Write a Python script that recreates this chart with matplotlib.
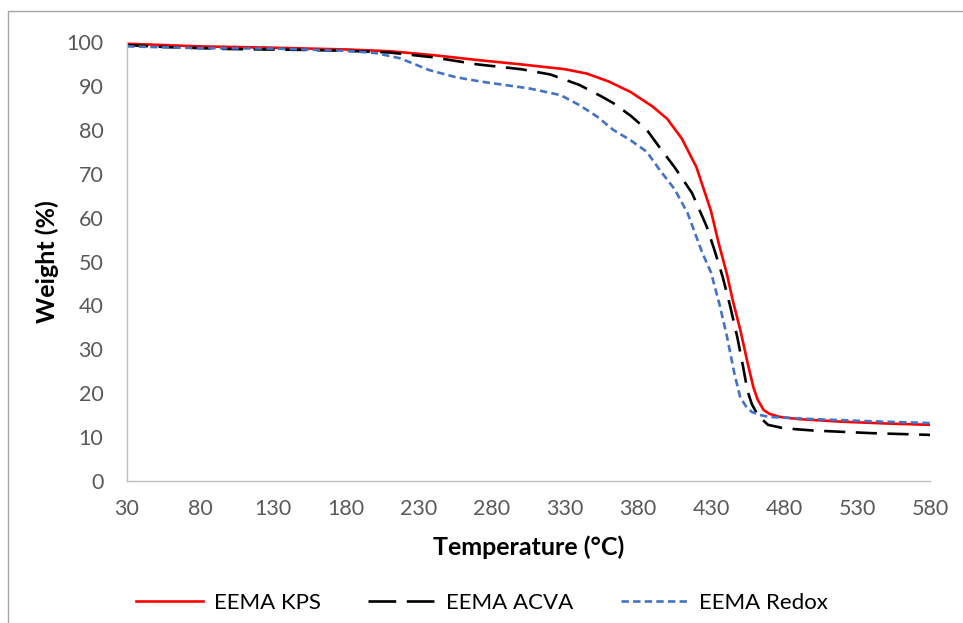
import matplotlib
matplotlib.use("Agg")
import matplotlib.pyplot as plt
from matplotlib.patches import Rectangle
from matplotlib.lines import Line2D

plt.rcParams['font.family'] = ['Lato', 'DejaVu Sans']

# TGA curves: temperature (°C) and remaining weight (%)
kps_temp = [30, 80, 130, 180, 210, 240, 270, 300, 330, 345, 360, 375, 390, 400, 410,
            420, 430, 435, 441, 445, 450, 455, 459, 462, 466, 470, 477, 490, 520, 550, 580]
kps_weight = [99.6, 99.0, 98.7, 98.3, 97.9, 97.0, 95.9, 94.9, 93.8, 92.8, 91.0, 88.6, 85.3, 82.5, 78.0,
              71.5, 61.5, 54.5, 47.0, 41.0, 34.5, 27.0, 21.4, 18.5, 16.2, 15.3, 14.6, 14.1, 13.5, 13.1, 12.8]

acva_temp = [30, 60, 100, 150, 180, 210, 240, 270, 300, 320, 340, 355, 363, 375, 386, 395, 405,
             417, 427, 432, 438, 443, 448, 452, 455, 458, 462, 469, 480, 500, 540, 580]
acva_weight = [99.3, 98.8, 98.4, 98.2, 98.0, 97.6, 96.5, 94.9, 93.8, 92.6, 90.2, 87.6, 86.1, 83.2, 80.0, 75.9, 71.5,
               65.6, 58.0, 53.0, 46.5, 40.0, 32.8, 26.0, 20.5, 17.5, 15.0, 12.8, 12.0, 11.5, 10.9, 10.5]

redox_temp = [30, 80, 130, 180, 200, 217, 237, 255, 272, 306, 327, 340, 352, 363, 375, 386, 395,
              405, 414, 424, 430, 436, 441, 446, 450, 454, 458, 464, 470, 500, 540, 580]
redox_weight = [99.0, 98.6, 98.5, 98.0, 97.5, 96.3, 93.6, 92.0, 91.0, 89.4, 87.9, 85.6, 83.0, 80.0, 77.6, 75.0, 70.8,
                66.5, 61.0, 52.0, 47.5, 40.0, 32.8, 24.5, 19.1, 17.0, 15.7, 15.0, 14.6, 14.1, 13.6, 13.2]

x_ticks = list(range(30, 581, 50))
y_ticks = list(range(0, 101, 10))

fig = plt.figure(figsize=(9.63, 6.23), dpi=100)
ax = fig.add_axes([127 / 963, 1 - 481 / 623, (930 - 127) / 963, (481 - 42) / 623])

lw = 1.9
ax.plot(kps_temp, kps_weight, color='#FF0000', lw=lw, label='EEMA KPS', solid_capstyle='butt')
ax.plot(acva_temp, acva_weight, color='#000000', lw=lw, dashes=(8, 4), label='EEMA ACVA')
ax.plot(redox_temp, redox_weight, color='#4472C4', lw=lw, dashes=(2.8, 1.6), label='EEMA Redox')

ax.set_xlim(30, 580)
ax.set_ylim(0, 100)
ax.set_xticks(x_ticks)
ax.set_yticks(y_ticks)
ax.tick_params(axis='both', length=0, labelsize=15.5, labelcolor='#595959')
ax.tick_params(axis='x', pad=13)
ax.tick_params(axis='y', pad=17)

for side in ('top', 'right'):
    ax.spines[side].set_visible(False)
for side in ('left', 'bottom'):
    ax.spines[side].set_color('#BFBFBF')
    ax.spines[side].set_linewidth(1.0)

ax.set_xlabel('Temperature (°C)', fontsize=18, fontweight='bold', labelpad=12)
ax.set_ylabel('Weight (%)', fontsize=18, fontweight='bold', labelpad=5)

handles = [
    Line2D([], [], color='#FF0000', lw=lw),
    Line2D([], [], color='#000000', lw=lw, dashes=(10.5, 4)),
    Line2D([], [], color='#4472C4', lw=lw, dashes=(2.8, 1.6)),
]
fig.legend(handles, ['EEMA KPS', 'EEMA ACVA', 'EEMA Redox'], loc='center',
           bbox_to_anchor=(482 / 963, 1 - 603 / 623), ncol=3, frameon=False,
           fontsize=16, handlelength=3.0, columnspacing=2.15, handletextpad=0.5)

# chart-area border
fig.patches.append(Rectangle((8 / 963, -0.1), 1.2, 1.1 - 11 / 623, transform=fig.transFigure,
                             fill=False, edgecolor='#A6A6A6', lw=1.0))

fig.savefig('out.png', dpi=100)
